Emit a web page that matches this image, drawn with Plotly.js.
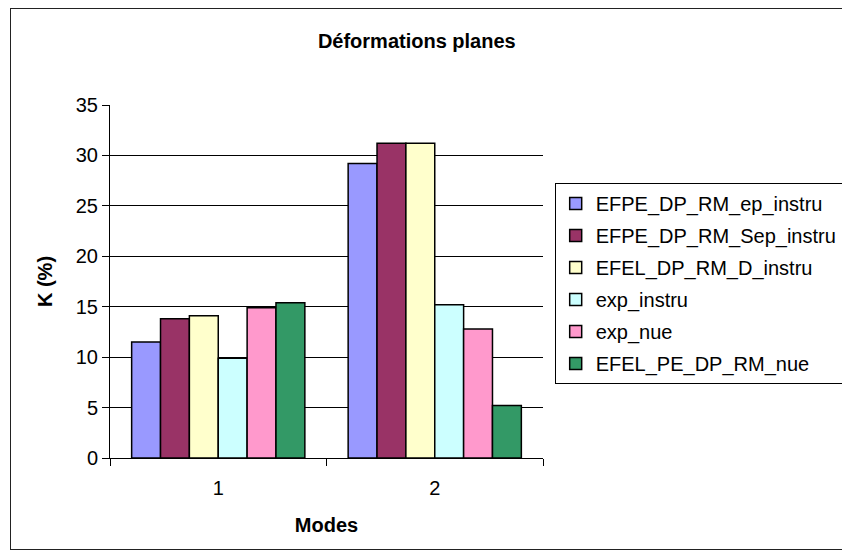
<!DOCTYPE html>
<html>
<head>
<meta charset="utf-8">
<script src="https://cdn.plot.ly/plotly-3.0.1.min.js"></script>
<style>
html,body{margin:0;padding:0;overflow:hidden;background:#fff;}
#chart{position:absolute;left:0;top:0;width:842px;height:560px;}
#frame{position:absolute;left:10px;top:8px;width:900px;height:540px;border:1px solid #222;pointer-events:none;}
</style>
</head>
<body>
<div id="chart"></div>
<div id="frame"></div>
<script>
var categories = ["1", "2"];
var seriesNames = ["EFPE_DP_RM_ep_instru", "EFPE_DP_RM_Sep_instru", "EFEL_DP_RM_D_instru", "exp_instru", "exp_nue", "EFEL_PE_DP_RM_nue"];
var s1 = [11.5, 29.2];
var s2 = [13.8, 31.2];
var s3 = [14.1, 31.2];
var s4 = [9.9, 15.2];
var s5 = [14.9, 12.8];
var s6 = [15.4, 5.2];
var seriesValues = [s1, s2, s3, s4, s5, s6];
var colors = ["#9999FF", "#993366", "#FFFFCC", "#CCFFFF", "#FF99CC", "#339966"];

var font = "Liberation Sans, Arial, sans-serif";
var traces = seriesNames.map(function(n, i){
  return {
    type: "bar",
    name: n,
    x: categories,
    y: seriesValues[i],
    marker: {color: colors[i], line: {color: "#000", width: 1.5}},
    legendgroup: "g" + i
  };
});

var layout = {
  width: 842, height: 560,
  paper_bgcolor: "#fff", plot_bgcolor: "#fff",
  margin: {l: 110, r: 299, t: 105, b: 102, autoexpand: false},
  barmode: "group", bargap: 0.2, bargroupgap: 0,
  font: {family: font, size: 20, color: "#000"},
  title: {text: "<b>Déformations planes</b>", font: {family: font, size: 20, color: "#000"}, x: 0.495, xref: "container", xanchor: "center", y: 0.927, yanchor: "middle"},
  xaxis: {
    type: "category", tickson: "boundaries", ticks: "outside", ticklen: 7, tickcolor: "#000",
    showline: true, linecolor: "#000", linewidth: 1, showgrid: false,
    tickfont: {family: font, size: 20}, ticklabelstandoff: 12,
    title: {text: "<b>Modes</b>", font: {family: font, size: 20}, standoff: 19}
  },
  yaxis: {
    range: [0, 35], dtick: 5, tick0: 0, ticks: "outside", ticklen: 7, tickcolor: "#000",
    showline: true, linecolor: "#000", linewidth: 1,
    showgrid: true, gridcolor: "#000", gridwidth: 1, zeroline: false,
    tickfont: {family: font, size: 20},
    title: {text: "<b>K (%)</b>", font: {family: font, size: 20}, standoff: 17}
  },
  legend: {
    x: 1.027, xanchor: "left", y: 0.779, yanchor: "top",
    bordercolor: "#000", borderwidth: 1, bgcolor: "#fff",
    font: {family: font, size: 20}, tracegroupgap: 3, traceorder: "grouped"
  },
  showlegend: true
};

Plotly.newPlot("chart", traces, layout, {staticPlot: true, displayModeBar: false});
</script>
</body>
</html>
